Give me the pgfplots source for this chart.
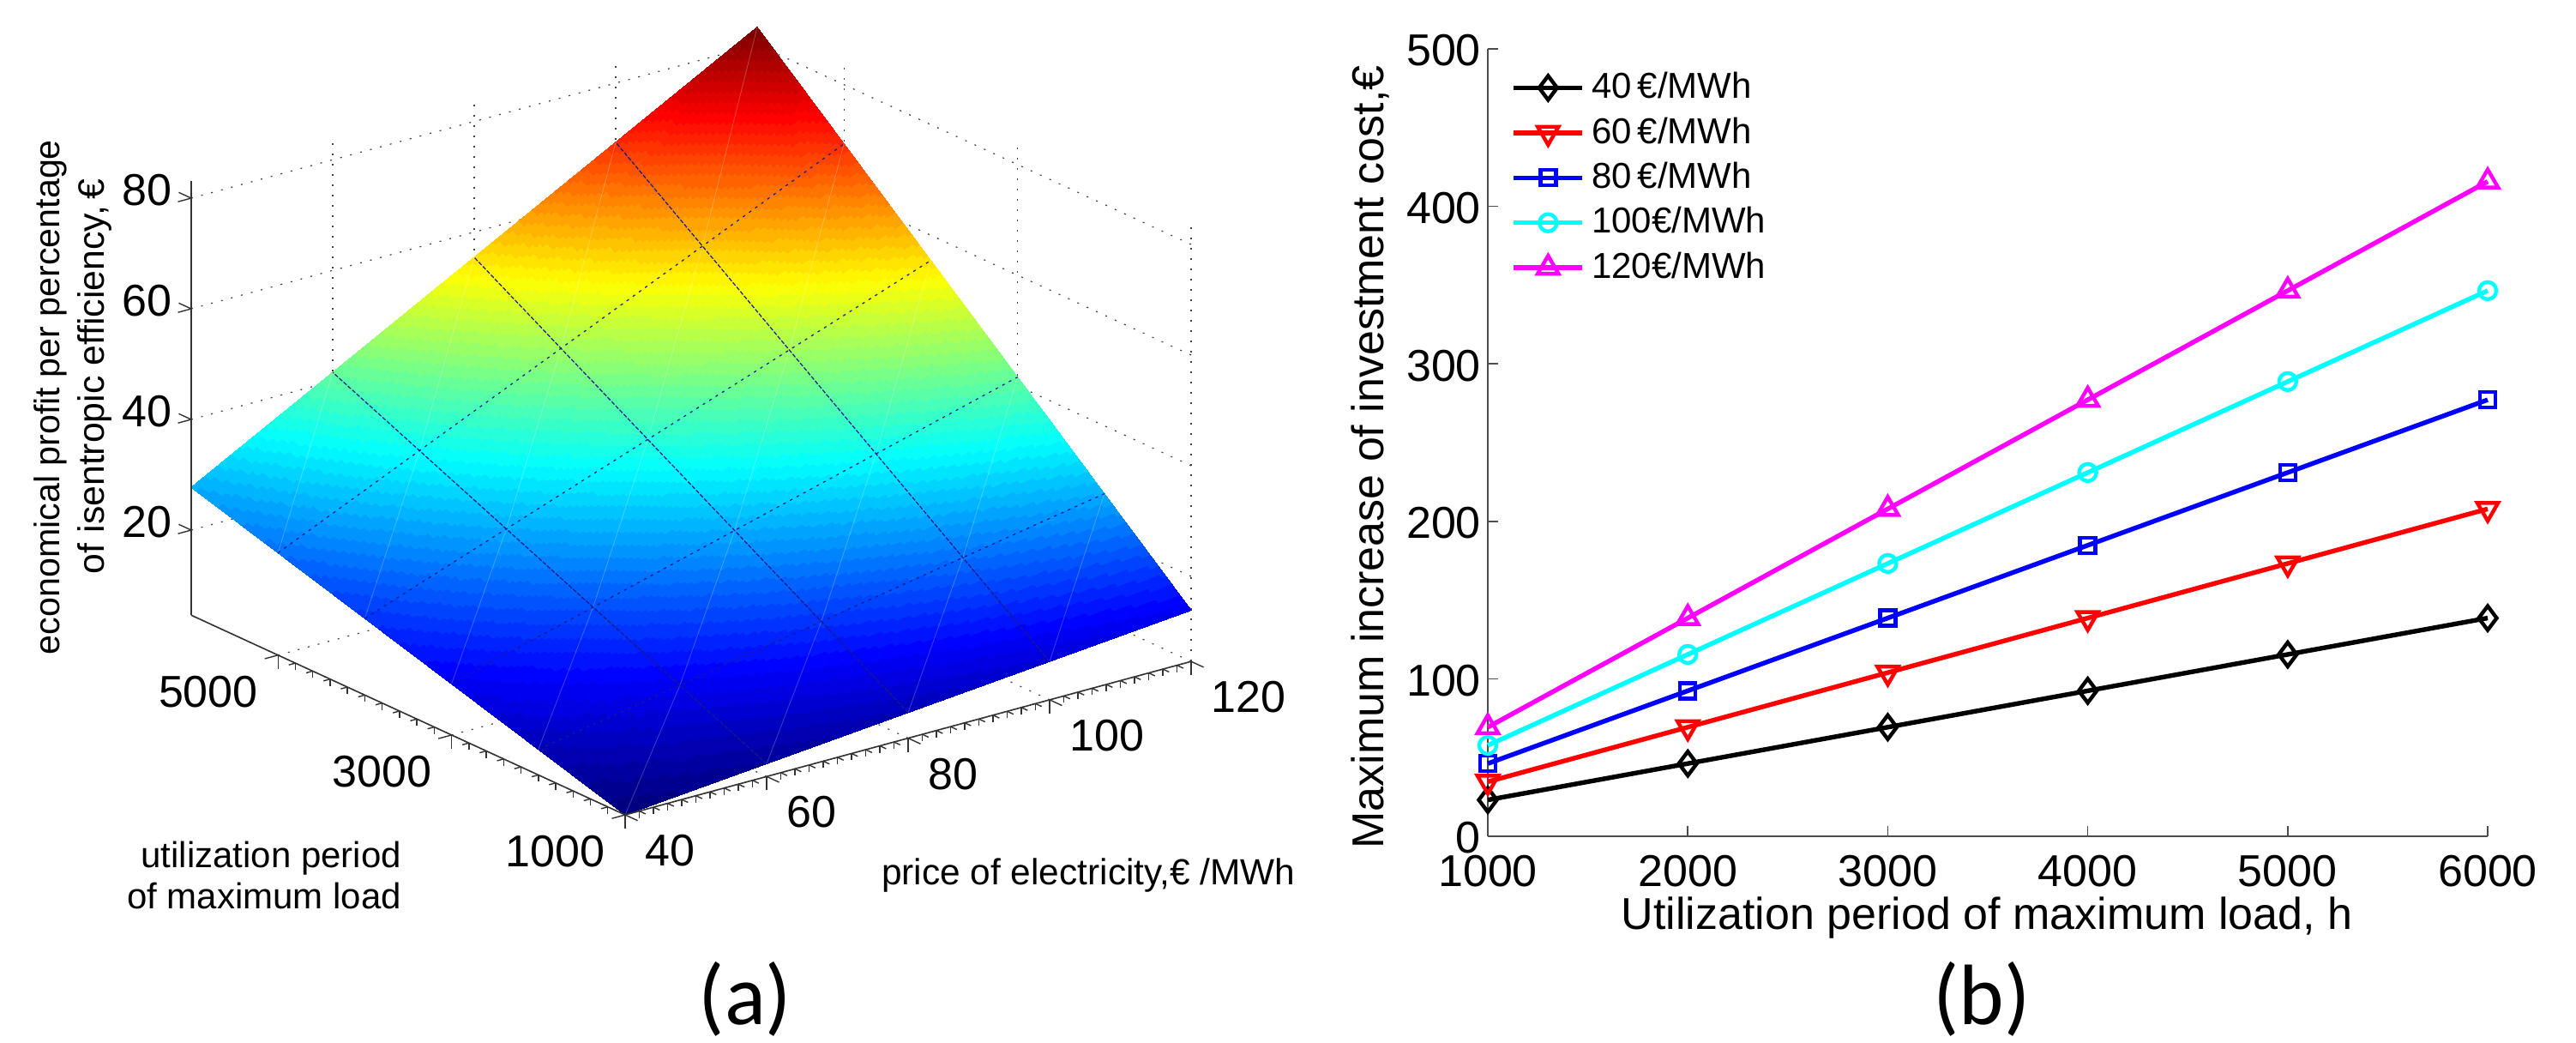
\documentclass[border=0pt]{standalone}
\usepackage{pgfplots}
\pgfplotsset{compat=1.18}
\usepgfplotslibrary{patchplots,colormaps}
\usepackage{fontspec}
\setmainfont{Liberation Sans}
\newfontfamily\cali{Carlito}
\definecolor{mycyan}{rgb}{0,1,1}
\definecolor{mymag}{rgb}{1,0,1}
\definecolor{meshc}{rgb}{0.1,0.1,0.55}
\tikzset{faint/.style={white,opacity=0.25,line width=0.2pt},
 dk/.style={meshc,line width=0.3pt,dash pattern=on 1.2pt off 0.5pt},
 dk2/.style={meshc,line width=0.3pt,dash pattern=on 0.8pt off 1.4pt}}
\begin{document}
\begin{tikzpicture}
\path[use as bounding box] (0pt,0pt) rectangle (751pt,-303.75pt);
\begin{axis}[
  at={(55.75pt,-237.5pt)}, anchor=south west,
  x={(2.0625pt,0.559pt)}, y={(-0.0253pt,0.01165pt)}, z={(0pt,1.6125pt)},
  xmin=40,xmax=120,ymin=1000,ymax=6000,zmin=4.62,zmax=83.16,
  clip=false,
  xtick={40,60,80,100,120},
  ytick={1000,3000,5000},
  ztick={20,40,60,80},
  grid=major, grid style={black!75,line width=0.3pt,dash pattern=on 0.5pt off 2.5pt},
  tick style={draw=none},
  tick align=outside, zticklabel pos=left,
  /pgf/number format/assume math mode=true,
  /pgf/number format/1000 sep={},
  tick label style={font=\fontsize{13}{13}\selectfont},
  xticklabel style={anchor=west,xshift=-1.6pt,yshift=-8.6pt},
  yticklabel style={anchor=center,xshift=-16.2pt,yshift=-9.5pt},
  zticklabel style={anchor=center,xshift=-9pt,yshift=0.5pt},
  colormap/jet, colormap={jet64}{samples of colormap=(64 of jet)}, colormap access=piecewise constant,
  point meta=z, point meta min=4.62, point meta max=83.16,
  axis line style={draw=none},
]
\addplot3[surf, shader=interp, patch type=bilinear, mesh/rows=5, mesh/cols=6] table[x=p,y=h,z=z]{
p h z
40 1000 4.62
40 2000 9.24
40 3000 13.86
40 4000 18.48
40 5000 23.1
40 6000 27.72
60 1000 6.93
60 2000 13.86
60 3000 20.79
60 4000 27.72
60 5000 34.65
60 6000 41.58
80 1000 9.24
80 2000 18.48
80 3000 27.72
80 4000 36.96
80 5000 46.2
80 6000 55.44
100 1000 11.55
100 2000 23.1
100 3000 34.65
100 4000 46.2
100 5000 57.75
100 6000 69.3
120 1000 13.86
120 2000 27.72
120 3000 41.58
120 4000 55.44
120 5000 69.3
120 6000 83.16
};
\pgfplotsset{every axis plot/.append style={no marks}}
% faint cell diagonals
\addplot3[faint] coordinates {(40,1000,4.62)(60,2000,13.86)(80,3000,27.72)(100,4000,46.2)(120,5000,69.3)};
\addplot3[faint] coordinates {(60,1000,6.93)(80,2000,18.48)(100,3000,34.65)(120,4000,55.44)};
\addplot3[faint] coordinates {(80,1000,9.24)(100,2000,23.1)(120,3000,41.58)};
\addplot3[faint] coordinates {(100,1000,11.55)(120,2000,27.72)};
\addplot3[faint] coordinates {(40,2000,9.24)(60,3000,20.79)(80,4000,36.96)(100,5000,57.75)(120,6000,83.16)};
\addplot3[faint] coordinates {(40,3000,13.86)(60,4000,27.72)(80,5000,46.2)(100,6000,69.3)};
\addplot3[faint] coordinates {(40,4000,18.48)(60,5000,34.65)(80,6000,55.44)};
\addplot3[faint] coordinates {(40,5000,23.1)(60,6000,41.58)};
% constant price lines
\addplot3[dk] coordinates {(60,1000,6.93)(60,6000,41.58)};
\addplot3[dk] coordinates {(80,1000,9.24)(80,6000,55.44)};
\addplot3[dk] coordinates {(100,1000,11.55)(100,6000,69.3)};
% constant hours lines
\addplot3[dk2] coordinates {(40,2000,9.24)(120,2000,27.72)};
\addplot3[dk2] coordinates {(40,3000,13.86)(120,3000,41.58)};
\addplot3[dk2] coordinates {(40,4000,18.48)(120,4000,55.44)};
\addplot3[dk2] coordinates {(40,5000,23.1)(120,5000,69.3)};
\end{axis}

% second axis with the same frame: the two floor axes with their ticks
\begin{axis}[
  at={(55.75pt,-237.5pt)}, anchor=south west,
  x={(2.0625pt,0.559pt)}, y={(-0.0253pt,0.01165pt)}, z={(0pt,1.6125pt)},
  xmin=40,xmax=120,ymin=1000,ymax=6000,zmin=4.62,zmax=83.16,
  clip=false,
  axis lines=left, axis line style={-,black!80,line width=0.4pt},
  z axis line style={draw=none},
  xtick={40,60,80,100,120},
  ytick={1000,3000,5000},
  ztick=\empty,
  xticklabels={}, yticklabels={},
  minor x tick num=9, minor y tick num=9,
  tick style={black!80,line width=0.35pt},
  major tick length=4pt, minor tick length=2pt,
  tick align=outside,
]
\end{axis}

% third axis with the y direction turned round: the vertical axis at the far left corner
\begin{axis}[
  at={(55.75pt,-237.5pt)}, anchor=south west,
  x={(2.0625pt,0.559pt)}, y={(0.0253pt,-0.01165pt)}, z={(0pt,1.6125pt)},
  xmin=40,xmax=120,ymin=-6000,ymax=-1000,zmin=4.62,zmax=83.16,
  clip=false,
  axis lines=left, axis line style={-,black!80,line width=0.4pt},
  x axis line style={draw=none}, y axis line style={draw=none},
  xtick=\empty, ytick=\empty,
  ztick={20,40,60,80}, zticklabels={},
  tick style={black!80,line width=0.35pt},
  major tick length=4pt,
  tick align=outside,
]
\end{axis}

\begin{axis}[
  at={(433.75pt,-243.75pt)}, anchor=south west,
  scale only axis, width=291.5pt, height=229.5pt,
  xmin=1000,xmax=6000,ymin=0,ymax=500,
  xtick={1000,2000,3000,4000,5000,6000},
  ytick={0,100,200,300,400,500},
  axis lines=left, axis line style={-,line width=0.4pt,black!70},
  tick style={black!70,line width=0.4pt},
  tick align=inside, major tick length=3pt,
  clip=false,
  /pgf/number format/assume math mode=true,
  /pgf/number format/1000 sep={},
  tick label style={font=\fontsize{13}{13}\selectfont},
  xticklabel style={yshift=-2pt},
  yticklabel style={xshift=1.5pt,yshift=-0.5pt},
  legend style={at={(0.023,0.98)},anchor=north west,draw=none,fill=none,font=\fontsize{10.5}{10.5}\selectfont,row sep=0pt,inner sep=0pt},
  legend cell align=left,
  every axis plot/.append style={line width=1.35pt,mark options={solid,line width=1.1pt}},
  legend image code/.code={\draw[mark repeat=2,mark phase=2,#1] plot coordinates {(0pt,0pt)(10pt,0pt)(20pt,0pt)};},
]
\addplot[black,mark=diamond,mark size=3.5pt] coordinates {(1000,23.1)(2000,46.2)(3000,69.3)(4000,92.4)(5000,115.5)(6000,138.6)};
\addlegendentry{40\,€/MWh}
\addplot[red,mark=triangle,mark size=3.5pt,mark options={solid,rotate=180,line width=1.1pt}] coordinates {(1000,34.65)(2000,69.3)(3000,103.95)(4000,138.6)(5000,173.25)(6000,207.9)};
\addlegendentry{60\,€/MWh}
\addplot[blue,mark=square,mark size=2.25pt] coordinates {(1000,46.2)(2000,92.4)(3000,138.6)(4000,184.8)(5000,231)(6000,277.2)};
\addlegendentry{80\,€/MWh}
\addplot[mycyan,mark=o,mark size=2.5pt] coordinates {(1000,57.75)(2000,115.5)(3000,173.25)(4000,231)(5000,288.75)(6000,346.5)};
\addlegendentry{100€/MWh}
\addplot[mymag,mark=triangle,mark size=3.5pt] coordinates {(1000,69.3)(2000,138.6)(3000,207.9)(4000,277.2)(5000,346.5)(6000,415.8)};
\addlegendentry{120€/MWh}
\end{axis}

\begin{scope}[x=0.25pt,y=-0.25pt]
\node[rotate=90,font=\fontsize{10.3}{12}\selectfont] at (59,463) {economical profit per percentage};
\node[rotate=90,font=\fontsize{10.7}{12}\selectfont] at (110,439) {of isentropic efficiency,\,€};
\node[align=right,anchor=east,font=\fontsize{10.5}{12}\selectfont] at (482,1020) {utilization period\\of maximum load};
\node[anchor=west,font=\fontsize{10.6}{12}\selectfont] at (1014,1020) {price of electricity,€ /MWh};
\node[rotate=90,font=\fontsize{13}{13}\selectfont] at (1598,533) {Maximum increase of investment cost,€};
\node[font=\fontsize{13}{13}\selectfont] at (2317,1070) {Utilization period of maximum load, h};
\node[inner sep=0pt,font=\cali\fontsize{25}{25}\selectfont] at (869,1165) {(a)};
\node[inner sep=0pt,font=\cali\fontsize{25}{25}\selectfont] at (2311,1165) {(b)};
\end{scope}
\end{tikzpicture}
\end{document}
